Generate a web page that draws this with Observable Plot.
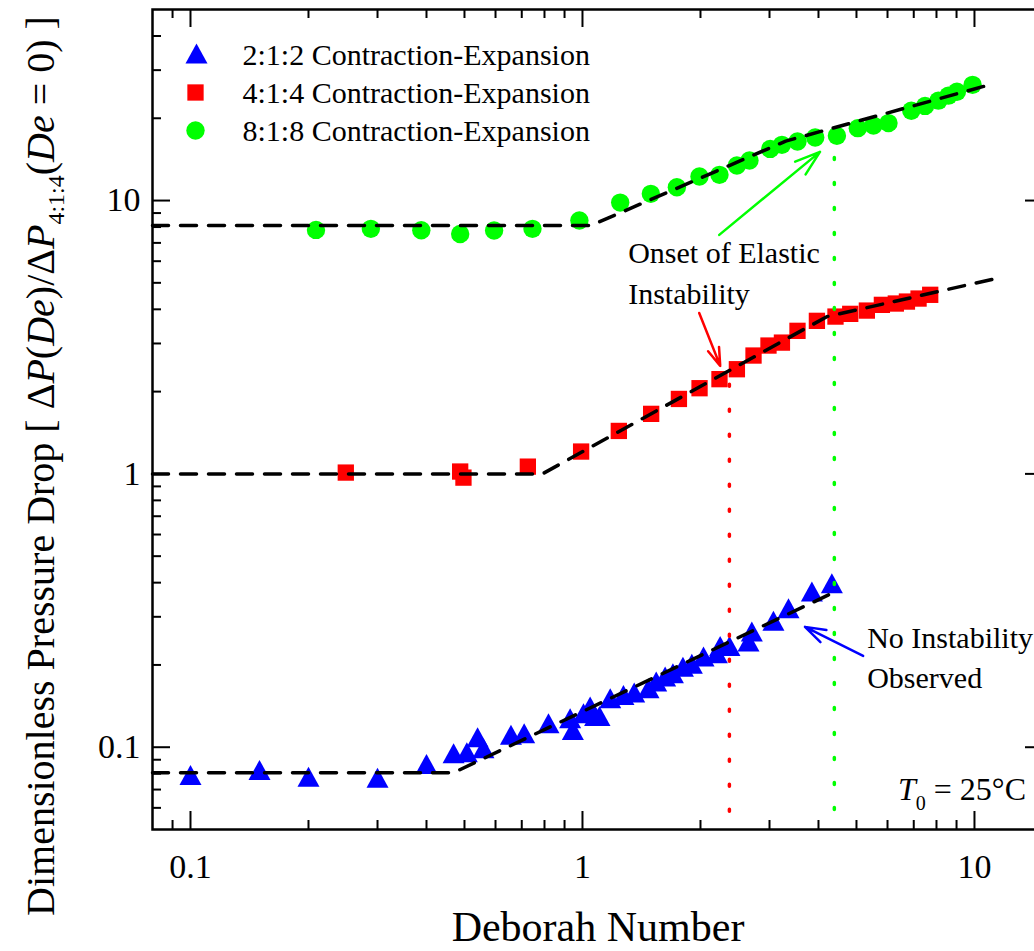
<!DOCTYPE html>
<html>
<head>
<meta charset="utf-8">
<script src="https://cdn.jsdelivr.net/npm/d3@7"></script>
<script src="https://cdn.jsdelivr.net/npm/@observablehq/plot@0.6"></script>
<style>
  html, body { margin: 0; padding: 0; background: #fff; overflow: hidden; }
  #chart { position: relative; width: 1034px; height: 951px; overflow: hidden; }
</style>
</head>
<body>
<div id="chart"></div>
<script>
// ---- Measured pressure-drop ratios vs Deborah number ----
const de212 = [0.1, 0.15, 0.2, 0.3, 0.4, 0.469, 0.507, 0.54, 0.559, 0.657, 0.71, 0.819, 0.93, 0.945, 1.006, 1.046, 1.077, 1.105, 1.177, 1.272, 1.355, 1.474, 1.542, 1.625, 1.701, 1.804, 1.901, 2.036, 2.202, 2.245, 2.371, 2.652, 2.704, 3.07, 3.354, 3.848, 4.327];
const dp212 = [0.0792, 0.0826, 0.078, 0.0774, 0.0869, 0.0951, 0.0959, 0.1088, 0.0992, 0.111, 0.1125, 0.1224, 0.1277, 0.1157, 0.133, 0.1408, 0.1302, 0.1302, 0.151, 0.1553, 0.1584, 0.1643, 0.1738, 0.1813, 0.1866, 0.197, 0.2018, 0.2146, 0.2208, 0.2348, 0.2348, 0.2434, 0.2649, 0.2905, 0.3226, 0.371, 0.398];

const de414 = [0.249, 0.4875, 0.497, 0.7255, 0.992, 1.238, 1.497, 1.762, 1.989, 2.236, 2.477, 2.731, 2.982, 3.227, 3.536, 3.963, 4.42, 4.82, 5.315, 5.805, 6.3, 6.725, 7.2, 7.71];
const dp414 = [1.011, 1.02, 0.969, 1.063, 1.207, 1.436, 1.658, 1.88, 2.058, 2.221, 2.415, 2.71, 2.948, 3.022, 3.337, 3.63, 3.763, 3.85, 3.958, 4.153, 4.2, 4.27, 4.38, 4.52];

const de818 = [0.209, 0.2885, 0.388, 0.4875, 0.595, 0.7455, 0.982, 1.248, 1.494, 1.741, 1.988, 2.236, 2.477, 2.667, 3.012, 3.227, 3.536, 3.924, 4.457, 5.04, 5.525, 6.035, 6.9, 7.48, 8.09, 8.58, 9.02, 9.89];
const dp818 = [7.81, 7.88, 7.79, 7.54, 7.77, 7.88, 8.45, 9.83, 10.58, 11.19, 12.24, 12.42, 13.43, 14.01, 15.45, 15.99, 16.44, 17.0, 17.25, 18.4, 18.8, 19.2, 21.3, 22.2, 23.2, 24.2, 25.0, 26.5];

// ---- Piecewise power-law fits (dashed) ----
const fitDe212 = [0.08, 0.469, 4.37];
const fitDp212 = [0.0807, 0.0807, 0.368];
const fitDe414 = [0.08, 0.79, 4.2, 11.75];
const fitDp414 = [1.0, 1.0, 3.76, 5.245];
const fitDe818 = [0.08, 1.05, 3.3, 10.7];
const fitDp818 = [8.1, 8.1, 16.5, 26.3];

// ---- Onset of elastic instability (dotted verticals) ----
const onsetDe = [2.37, 4.39];
const onsetTopDp = [2.12, 14.3];

// ---- Legend labels ----
const legendLabels = ["2:1:2 Contraction-Expansion", "4:1:4 Contraction-Expansion", "8:1:8 Contraction-Expansion"];

// ---- Axis ticks ----
const xMajor = [0.1, 1, 10];
const xMinor = [0.09, 0.2, 0.3, 0.4, 0.5, 0.6, 0.7, 0.8, 0.9, 2, 3, 4, 5, 6, 7, 8, 9];
const yMajor = [0.1, 1, 10];
const yMinor = [0.06, 0.07, 0.08, 0.09, 0.2, 0.3, 0.4, 0.5, 0.6, 0.7, 0.8, 0.9, 2, 3, 4, 5, 6, 7, 8, 9, 20, 30, 40];

// ---- Annotations ----
const noteText = ["Onset of Elastic", "Instability", "No Instability", "Observed"];
const noteDe = [1.308, 1.308, 5.325, 5.325];
const noteDp = [6.415, 4.541, 0.2503, 0.1787];
const arrowFromDe = [2.233, 1.985, 5.2];
const arrowFromDp = [7.49, 3.88, 0.2158];
const arrowToDe = [4.035, 2.246, 3.695];
const arrowToDp = [15.07, 2.484, 0.2756];
const arrowColor = ["#00ff00", "#ff0000", "#0000ff"];

// ---- Assemble tables ----
const zip = (xs, ys) => xs.map((x, i) => ({de: x, dp: ys[i]}));
const pts212 = zip(de212, dp212), pts414 = zip(de414, dp414), pts818 = zip(de818, dp818);
const fit212 = zip(fitDe212, fitDp212), fit414 = zip(fitDe414, fitDp414), fit818 = zip(fitDe818, fitDp818);
const onsets = onsetDe.map((d, i) => ({de: d, top: onsetTopDp[i], color: i === 0 ? "#ff0000" : "#00ff00"}));
const notes = noteText.map((t, i) => ({text: t, de: noteDe[i], dp: noteDp[i]}));
const arrows = arrowFromDe.map((d, i) => ({x1: d, y1: arrowFromDp[i], x2: arrowToDe[i], y2: arrowToDp[i], color: arrowColor[i]}));

const FONT = "'Liberation Serif', 'Times New Roman', Tinos, 'Nimbus Roman', FreeSerif, 'DejaVu Serif', serif";
const W = 1050, H = 951;
const M = {top: 9, right: 7, bottom: 122, left: 152};
const frameW = W - M.left - M.right, frameH = H - M.top - M.bottom;
const MAJOR = 18, MINOR = 9;

// Upward triangle centred on its bounding box
const triangle = {
  draw(ctx, size) {
    const r = Math.sqrt(size / Math.PI);
    const hw = r * 1.375, hh = r * 1.25;
    ctx.moveTo(0, -hh);
    ctx.lineTo(hw, hh);
    ctx.lineTo(-hw, hh);
    ctx.closePath();
  }
};

const dashed = {x: "de", y: "dp", stroke: "black", strokeWidth: 3.5, strokeDasharray: "16,12"};

const chart = Plot.plot({
  width: W, height: H,
  marginTop: M.top, marginRight: M.right, marginBottom: M.bottom, marginLeft: M.left,
  style: {fontFamily: FONT, background: "white", color: "black"},
  x: {type: "log", domain: [0.08, 15]},
  y: {type: "log", domain: [0.05, 50]},
  marks: [
    // data
    Plot.dot(pts212, {x: "de", y: "dp", r: 8, symbol: triangle, fill: "#0000ff"}),
    Plot.dot(pts414, {x: "de", y: "dp", r: 9.2, symbol: "square", fill: "#ff0000"}),
    Plot.dot(pts818, {x: "de", y: "dp", r: 9.2, fill: "#00ff00"}),
    // fits
    Plot.line(fit212, dashed),
    Plot.line(fit414, dashed),
    Plot.line(fit818, dashed),
    // onset markers
    Plot.ruleX(onsets, {x: "de", y1: "top", y2: 0.05, stroke: "color", strokeWidth: 3.5, strokeDasharray: "2,23", strokeLinecap: "round"}),
    // arrows
    Plot.arrow(arrows, {x1: "x1", y1: "y1", x2: "x2", y2: "y2", stroke: "color", strokeWidth: 2.5, headLength: 16, headAngle: 36}),
    // annotation text
    Plot.text(notes, {x: "de", y: "dp", text: "text", textAnchor: "start", lineAnchor: "middle", fontSize: 30, fill: "black"}),
    // frame and inward ticks on all four sides
    Plot.frame({stroke: "black", strokeWidth: 2.5}),
    Plot.ruleX(xMajor, {stroke: "black", strokeWidth: 2, insetTop: frameH - MAJOR}),
    Plot.ruleX(xMajor, {stroke: "black", strokeWidth: 2, insetBottom: frameH - MAJOR}),
    Plot.ruleX(xMinor, {stroke: "black", strokeWidth: 2, insetTop: frameH - MINOR}),
    Plot.ruleX(xMinor, {stroke: "black", strokeWidth: 2, insetBottom: frameH - MINOR}),
    Plot.ruleY(yMajor, {stroke: "black", strokeWidth: 2, insetRight: frameW - MAJOR}),
    Plot.ruleY(yMajor, {stroke: "black", strokeWidth: 2, insetLeft: frameW - MAJOR}),
    Plot.ruleY(yMinor, {stroke: "black", strokeWidth: 2, insetRight: frameW - MINOR}),
    Plot.ruleY(yMinor, {stroke: "black", strokeWidth: 2, insetLeft: frameW - MINOR}),
    // tick labels
    Plot.axisX(xMajor, {tickSize: 0, tickPadding: 24, fontSize: 34, tickFormat: d => `${d}`, label: null}),
    Plot.axisY(yMajor, {tickSize: 0, tickPadding: 12, fontSize: 34, tickFormat: d => `${d}`, label: null}),
    // x-axis title
    Plot.text(["Deborah Number"], {frameAnchor: "bottom", text: d => d, dy: 98, lineAnchor: "middle", fontSize: 42, fill: "black"}),
    // legend
    Plot.dot([legendLabels[0]], {frameAnchor: "top-left", dx: 44, dy: 44, r: 8, symbol: triangle, fill: "#0000ff"}),
    Plot.dot([legendLabels[1]], {frameAnchor: "top-left", dx: 43, dy: 83, r: 9.2, symbol: "square", fill: "#ff0000"}),
    Plot.dot([legendLabels[2]], {frameAnchor: "top-left", dx: 43, dy: 121, r: 9.2, fill: "#00ff00"}),
    Plot.text([legendLabels[0]], {frameAnchor: "top-left", text: d => d, dx: 90, dy: 46, textAnchor: "start", lineAnchor: "middle", fontSize: 30, fill: "black"}),
    Plot.text([legendLabels[1]], {frameAnchor: "top-left", text: d => d, dx: 90, dy: 84, textAnchor: "start", lineAnchor: "middle", fontSize: 30, fill: "black"}),
    Plot.text([legendLabels[2]], {frameAnchor: "top-left", text: d => d, dx: 90, dy: 122, textAnchor: "start", lineAnchor: "middle", fontSize: 30, fill: "black"})
  ]
});

chart.style.maxWidth = "none";
document.getElementById("chart").append(chart);

const svg = d3.select(chart);

// y-axis title with italic symbols and subscript
const yTitle = svg.append("text")
  .attr("transform", "translate(54,466) rotate(-90)")
  .attr("text-anchor", "middle")
  .attr("font-family", FONT)
  .attr("font-size", 40)
  .attr("fill", "black");
yTitle.append("tspan").text("Dimensionless Pressure Drop [ \u0394");
yTitle.append("tspan").attr("font-style", "italic").text("P");
yTitle.append("tspan").text("(");
yTitle.append("tspan").attr("font-style", "italic").text("De");
yTitle.append("tspan").text(")/\u0394");
yTitle.append("tspan").attr("font-style", "italic").text("P");
yTitle.append("tspan").attr("font-size", 24).attr("dy", 10).text("4:1:4");
yTitle.append("tspan").attr("dy", -10).text("(");
yTitle.append("tspan").attr("font-style", "italic").text("De");
yTitle.append("tspan").text(" = 0) ]");

// reference temperature, lower-right corner of the frame
const t0 = svg.append("text")
  .attr("x", W - M.right - 17)
  .attr("y", H - M.bottom - 29)
  .attr("text-anchor", "end")
  .attr("font-family", FONT)
  .attr("font-size", 32)
  .attr("fill", "black");
t0.append("tspan").attr("font-style", "italic").text("T");
t0.append("tspan").attr("font-size", 20).attr("dy", 10).text("0");
t0.append("tspan").attr("dy", -10).text(" = 25\u00B0C");
</script>
</body>
</html>
